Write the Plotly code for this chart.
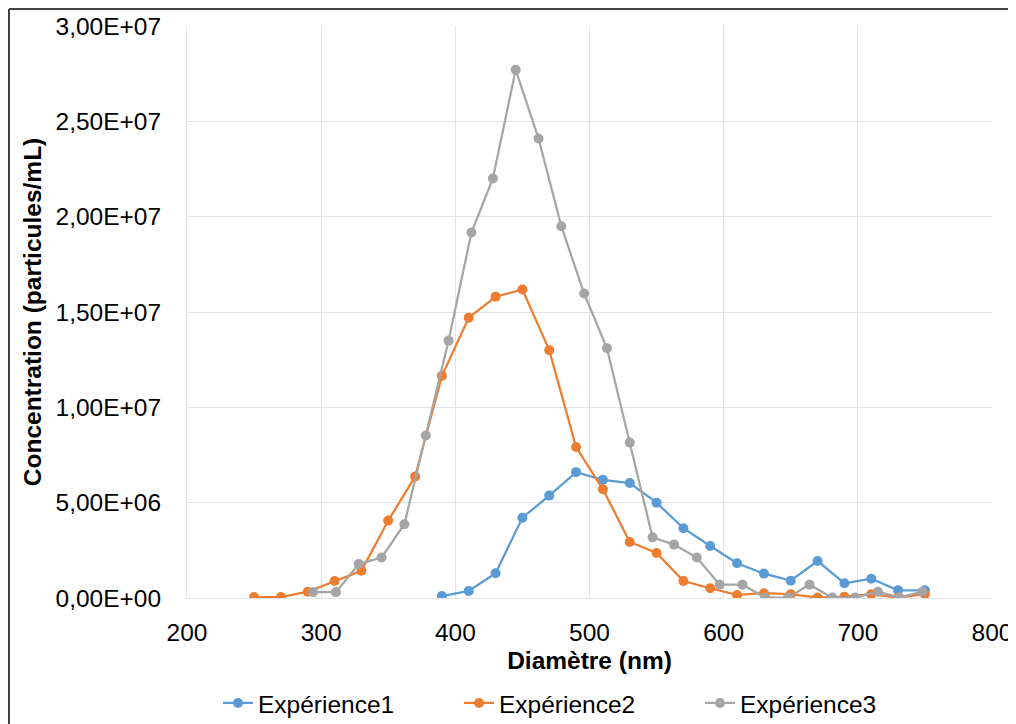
import plotly.graph_objects as go

# Data (diameter in nm, concentration in particles/mL)
x_exp1 = [390, 410, 430, 450, 470, 490, 510, 530, 550, 570, 590, 610, 630, 650, 670, 690, 710, 730, 750]
y_exp1 = [0.10e6, 0.37e6, 1.30e6, 4.21e6, 5.37e6, 6.60e6, 6.20e6, 6.03e6, 5.00e6, 3.66e6,
          2.73e6, 1.82e6, 1.28e6, 0.91e6, 1.94e6, 0.77e6, 1.01e6, 0.40e6, 0.40e6]

x_exp2 = [250, 270, 290, 310, 330, 350, 370, 390, 410, 430, 450, 470, 490, 510, 530, 550,
          570, 590, 610, 630, 650, 670, 690, 710, 730, 750]
y_exp2 = [0.05e6, 0.05e6, 0.33e6, 0.89e6, 1.43e6, 4.06e6, 6.37e6, 11.65e6, 14.70e6, 15.80e6,
          16.18e6, 13.00e6, 7.92e6, 5.70e6, 2.94e6, 2.36e6, 0.89e6, 0.51e6, 0.16e6, 0.25e6,
          0.20e6, 0.02e6, 0.07e6, 0.20e6, 0.02e6, 0.20e6]

x_exp3 = [294, 311, 328, 345, 362, 378, 395, 412, 428, 445, 462, 479, 496, 513, 530, 547,
          563, 580, 597, 614, 631, 648, 664, 681, 698, 715, 731, 748]
y_exp3 = [0.31e6, 0.31e6, 1.78e6, 2.12e6, 3.87e6, 8.52e6, 13.50e6, 19.17e6, 22.00e6, 27.70e6,
          24.10e6, 19.50e6, 15.97e6, 13.10e6, 8.15e6, 3.18e6, 2.80e6, 2.12e6, 0.70e6, 0.70e6,
          0.02e6, 0.02e6, 0.70e6, 0.02e6, 0.02e6, 0.33e6, 0.02e6, 0.33e6]

series_names = ["Expérience1", "Expérience2", "Expérience3"]
colors = ["#5B9BD5", "#ED7D31", "#A5A5A5"]

y_tickvals = [0, 5e6, 10e6, 15e6, 20e6, 25e6, 30e6]
y_ticktext = ["0,00E+00", "5,00E+06", "1,00E+07", "1,50E+07", "2,00E+07", "2,50E+07", "3,00E+07"]
x_tickvals = [200, 300, 400, 500, 600, 700, 800]

FONT = "Liberation Sans, Arial, sans-serif"
FS = 24.5

# The page body adds an ~8px offset, so the figure is slightly smaller and margins shifted.
W, H = 1008, 716
L, T, R, B = 179, 18, 24, 126
PW, PH = W - L - R, H - T - B

fig = go.Figure()
for xs, ys, name, c in zip([x_exp1, x_exp2, x_exp3], [y_exp1, y_exp2, y_exp3], series_names, colors):
    fig.add_trace(go.Scatter(
        x=xs, y=ys, name=name, mode="lines+markers",
        line=dict(color=c, width=2.25),
        marker=dict(color=c, size=10, symbol="circle"),
    ))

grid = "#e1e4ec"
fig.update_layout(
    width=W, height=H,
    paper_bgcolor="white", plot_bgcolor="white",
    margin=dict(l=L, r=R, t=T, b=B, autoexpand=False),
    font=dict(family=FONT, size=FS, color="#000000"),
    showlegend=True,
    legend=dict(orientation="h", x=(210 - L) / PW, xanchor="left", y=-0.1836, yanchor="middle",
                font=dict(size=FS, color="#000000"), itemwidth=30,
                tracegroupgap=0, entrywidth=196, entrywidthmode="pixels"),
    xaxis=dict(
        range=[200, 800], tickvals=x_tickvals, showgrid=True, gridcolor=grid, gridwidth=1,
        zeroline=False, showline=True, linecolor=grid, mirror=False, automargin=False,
        ticks="outside", ticklen=13, tickcolor="rgba(0,0,0,0)",
        tickfont=dict(size=FS),
        title=dict(text="<b>Diamètre (nm)</b>", font=dict(size=FS), standoff=6),
    ),
    yaxis=dict(
        range=[0, 30e6], tickvals=y_tickvals, ticktext=y_ticktext, showgrid=True,
        gridcolor=grid, gridwidth=1, zeroline=False, showline=True, linecolor=grid,
        automargin=False,
        ticks="outside", ticklen=20, tickcolor="rgba(0,0,0,0)",
        tickfont=dict(size=FS),
        title=dict(text="<b>Concentration (particules/mL)</b>", font=dict(size=FS), standoff=6),
    ),
)

# Outer frame lines (top and left) around the chart image
fy = (PH + T - 1) / PH
fx = (1 - L) / PW
fig.add_shape(type="line", xref="paper", yref="paper",
              x0=fx, x1=(W - L) / PW + 0.01, y0=fy, y1=fy,
              line=dict(color="#404040", width=2))
fig.add_shape(type="line", xref="paper", yref="paper",
              x0=fx, x1=fx, y0=fy, y1=-(B + 5) / PH,
              line=dict(color="#404040", width=2))

fig.write_html("out.html")
